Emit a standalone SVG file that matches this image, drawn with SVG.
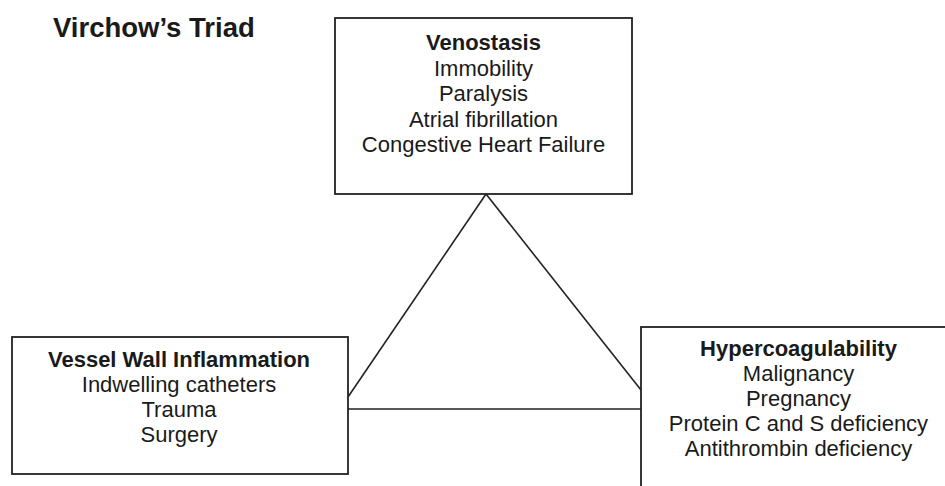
<svg xmlns="http://www.w3.org/2000/svg" width="945" height="486" viewBox="0 0 945 486">
<style>
text{font-family:"Liberation Sans",Arial,sans-serif;fill:#1a1a1a;text-anchor:middle;font-size:22px}
.b{font-weight:bold}
.title{font-size:27.5px;font-weight:bold;text-anchor:start}
.box{fill:#fff;stroke:#222;stroke-width:1.8}
.ln{stroke:#222;stroke-width:1.6;fill:none}
</style>
<rect width="945" height="486" fill="#fff"/>
<text class="title" x="53" y="37">Virchow’s Triad</text>
<g id="connectors">
<line class="ln" x1="486" y1="194" x2="348" y2="397"/>
<line class="ln" x1="486" y1="194" x2="641" y2="390"/>
<line class="ln" x1="348" y1="409" x2="641" y2="409"/>
</g>
<g id="venostasis">
<rect class="box" x="335" y="18" width="297" height="176"/>
<text class="b" x="483.5" y="50">Venostasis</text>
<text x="483.5" y="75.5">Immobility</text>
<text x="483.5" y="101">Paralysis</text>
<text x="483.5" y="126.5">Atrial fibrillation</text>
<text x="483.5" y="152">Congestive Heart Failure</text>
</g>
<g id="vessel-wall">
<rect class="box" x="12" y="337" width="336" height="137"/>
<text class="b" x="179" y="367">Vessel Wall Inflammation</text>
<text x="179" y="392">Indwelling catheters</text>
<text x="179" y="417">Trauma</text>
<text x="179" y="442">Surgery</text>
</g>
<g id="hypercoagulability">
<rect class="box" x="641" y="327" width="320" height="180"/>
<text class="b" x="798.5" y="356">Hypercoagulability</text>
<text x="798.5" y="381">Malignancy</text>
<text x="798.5" y="406">Pregnancy</text>
<text x="798.5" y="431">Protein C and S deficiency</text>
<text x="798.5" y="456">Antithrombin deficiency</text>
</g>
</svg>
